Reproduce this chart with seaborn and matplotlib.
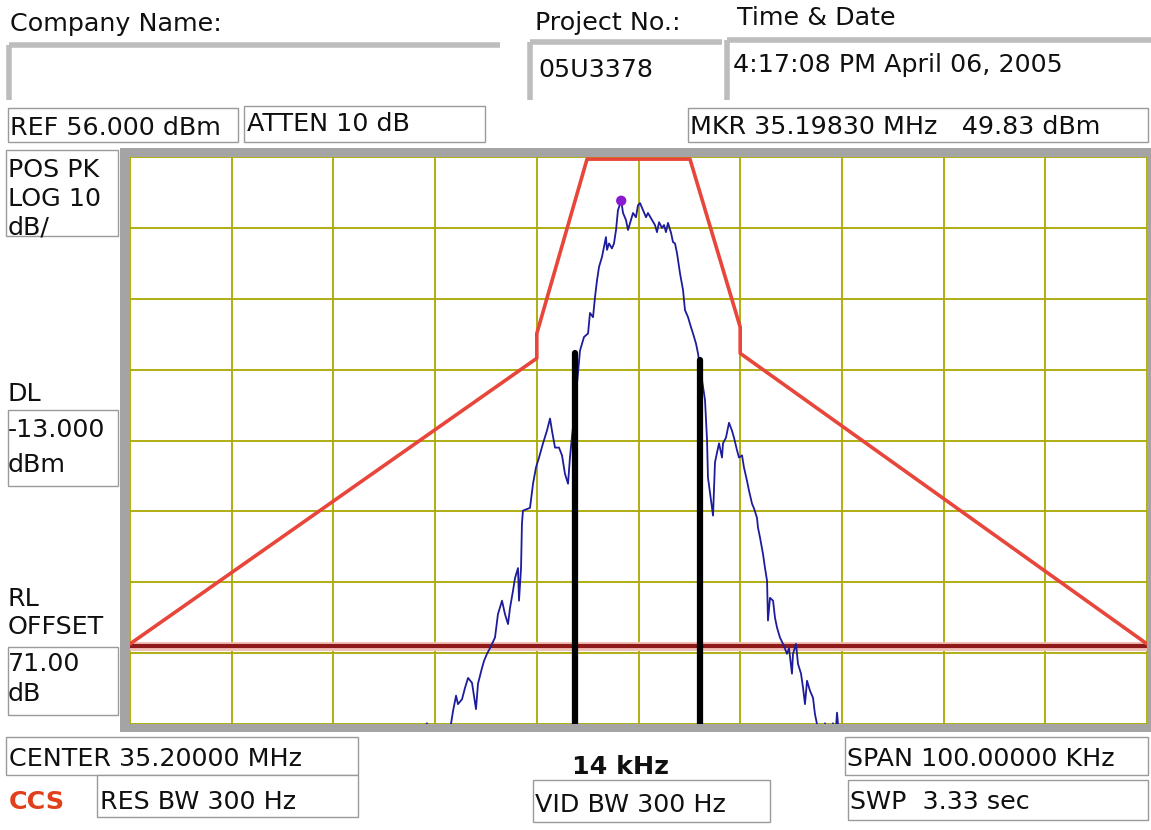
import numpy as np
import pandas as pd
import matplotlib
matplotlib.use("Agg")
import matplotlib.pyplot as plt
from matplotlib.patches import Rectangle
import seaborn as sns

# ---------------- data ----------------
center_mhz = 35.2
span_khz = 100.0
ref_dbm = 56.0
db_per_div = 10.0
n_vdiv = 8
n_hdiv = 10
display_line_dbm = -13.0

trace_khz = [-22.0, -20.8, -20.6, -18.6, -18.44, -18.24, -17.94, -17.75, -17.35, -17.06,
             -16.76, -16.37, -15.98, -15.78, -15.39, -15.19, -14.90, -14.60, -14.11, -13.82,
             -13.42, -13.13, -12.83, -12.63, -12.34, -12.14, -11.85, -11.75, -11.55, -11.46,
             -11.36, -10.67, -10.37, -10.08, -9.78, -9.39, -9.00, -8.70, -8.51, -8.21,
             -7.82, -7.52, -7.23, -6.93, -6.74, -6.30, -5.75, -5.46, -5.36, -4.96,
             -4.87, -4.77, -4.47, -4.38, -4.28, -4.08, -3.88, -3.59, -3.39, -3.20,
             -3.10, -2.90, -2.61, -2.41, -2.21, -2.02, -1.70, -1.52, -1.23, -1.03,
             -0.74, -0.54, -0.25, -0.05, 0.15, 0.44, 0.74, 0.93, 1.33, 1.62,
             1.82, 2.02, 2.31, 2.51, 2.70, 2.90, 3.20, 3.39, 3.59, 3.79,
             4.08, 4.38, 4.57, 4.87, 5.16, 5.36, 5.65, 5.85, 6.30, 6.54,
             6.74, 6.83, 7.13, 7.33, 7.42, 7.52, 7.72, 7.92, 8.21, 8.31,
             8.60, 8.90, 9.19, 9.39, 9.69, 9.88, 10.18, 10.37, 10.67, 10.87,
             11.16, 11.36, 11.65, 11.75, 11.95, 12.24, 12.44, 12.64, 12.73, 12.93,
             13.23, 13.42, 13.62, 13.91, 14.21, 14.60, 14.80, 15.09, 15.19, 15.49,
             15.68, 15.98, 16.18, 16.37, 16.57, 16.86, 17.16, 17.35, 17.55, 17.75,
             18.2, 18.34, 18.5, 19.0, 19.12, 19.3, 19.52, 19.62, 19.8, 21.0]
trace_dbm = [-27, -23.9, -27, -27, -24.0, -22.2, -20.0, -21.2, -20.5, -18.9,
             -17.5, -18.2, -21.9, -18.3, -16.1, -15.1, -14.1, -13.3, -11.8, -8.5,
             -6.6, -8.5, -9.9, -7.6, -5.2, -3.4, -2.0, -6.6, -2.0, 4.3,
             6.1, 6.5, 9.9, 12.2, 13.6, 15.6, 17.4, 19.1, 17.4, 15.0,
             15.0, 13.9, 11.3, 9.9, 13.6, 20.0, 28.7, 30.1, 30.6, 31.1,
             32.5, 34.0, 33.4, 34.8, 36.2, 38.6, 40.5, 41.9, 43.3, 44.7,
             42.9, 43.8, 43.1, 43.8, 45.7, 48.5, 49.83, 48.1, 47.1, 45.7,
             47.1, 48.1, 47.5, 49.2, 49.5, 48.5, 47.5, 48.1, 47.1, 46.4,
             45.4, 46.8, 46.0, 46.4, 45.4, 46.7, 45.3, 44.0, 43.8, 42.4,
             39.6, 37.2, 34.4, 33.4, 32.0, 31.1, 29.7, 28.3, 24.0, 21.7,
             16.0, 10.8, 7.5, 5.4, 8.9, 12.9, 14.3, 15.6, 13.6, 15.6,
             16.4, 18.5, 17.4, 16.4, 14.6, 13.6, 13.9, 12.2, 10.3, 8.9,
             7.1, 6.4, 5.1, 3.7, 2.3, 0.0, -2.0, -3.8, -9.4, -6.2,
             -6.6, -9.0, -10.4, -11.8, -12.7, -14.1, -13.3, -16.9, -14.1, -12.7,
             -15.5, -16.9, -18.9, -21.2, -17.9, -19.3, -20.3, -22.6, -24.0, -27,
             -27, -23.9, -27, -27, -23.9, -27, -22.4, -24.0, -27, -27]
assert len(trace_khz) == len(trace_dbm)

mask_khz = [-50, -10, -10, -5.06, 5.06, 10, 10, 50]
mask_dbm = [-12.7, 27.6, 31.1, 55.7, 55.7, 32.0, 28.3, -12.7]

obw_khz = [-6.24, 6.05]
obw_top_dbm = [28.3, 27.3]

marker_khz = [-1.70]
marker_dbm = [49.83]

# ---------------- style ----------------
sns.set_theme(style="white")
plt.rcParams["font.family"] = ["DejaVu Sans"]

W, H = 1151, 830
fig = plt.figure(figsize=(W / 100, H / 100), dpi=100)
fig.patch.set_facecolor("white")

# overlay for panel text / boxes (pixel coordinates of the layout)
ov = fig.add_axes([0, 0, 1, 1], zorder=0)
ov.set_xlim(0, W)
ov.set_ylim(H, 0)
ov.axis("off")

# grey frame around the graticule
ov.add_patch(Rectangle((120, 148), W - 120, 584, facecolor="#a4a4a4", edgecolor="none"))

FS = 18.3
TXT = "#101010"
BOX = "#9a9a9a"

def box(x0, y0, x1, y1):
    ov.add_patch(Rectangle((x0, y0), x1 - x0, y1 - y0, facecolor="white",
                           edgecolor=BOX, linewidth=1.0))

def sunken(x0, y0, x1, y1):
    ov.plot([x0, x1], [y0, y0], color="#bdbdbd", lw=4, solid_capstyle="butt")
    ov.plot([x0, x0], [y0, y1], color="#bdbdbd", lw=4, solid_capstyle="butt")

def txt(x, y, s, **kw):
    opts = dict(fontsize=FS, color=TXT, va="baseline", ha="left")
    opts.update(kw)
    ov.text(x, y, s, **opts)

# header
txt(10, 31, "Company Name:")
sunken(9, 45, 500, 100)
txt(535, 30, "Project No.:")
sunken(530, 42, 722, 100)
txt(538, 77, "05U3378")
txt(737, 25, "Time & Date")
sunken(727, 40, 1151, 100)
txt(733, 72, "4:17:08 PM April 06, 2005")

box(8, 108, 238, 142)
txt(10, 135, "REF 56.000 dBm")
box(244, 106, 485, 142)
txt(247, 131, "ATTEN 10 dB")
box(688, 108, 1148, 142)
txt(690, 134, "MKR 35.19830 MHz   49.83 dBm")

# left panel
box(6, 150, 118, 236)
txt(8, 177, "POS PK")
txt(8, 206, "LOG 10")
txt(8, 234, "dB/")
txt(8, 401, "DL")
box(8, 410, 118, 486)
txt(8, 437, "-13.000")
txt(8, 472, "dBm")
txt(8, 606, "RL")
txt(8, 634, "OFFSET")
box(8, 647, 118, 715)
txt(8, 671, "71.00")
txt(8, 701, "dB")

# bottom panel
box(6, 737, 358, 775)
txt(9, 766, "CENTER 35.20000 MHz")
box(97, 775, 358, 817)
txt(100, 809, "RES BW 300 Hz")
txt(9, 809, "CCS", color="#e0401a", fontweight="bold")
txt(572, 774, "14 kHz", fontweight="bold")
box(533, 780, 770, 822)
txt(535, 812, "VID BW 300 Hz")
box(845, 737, 1148, 775)
txt(847, 766, "SPAN 100.00000 KHz")
box(848, 780, 1148, 820)
txt(850, 809, "SWP  3.33 sec")

# ---------------- graticule ----------------
ax = fig.add_axes([130 / W, 1 - 724 / H, (1147 - 130) / W, (724 - 157) / H], zorder=1)
ax.set_facecolor("white")
half = span_khz / 2
bottom = ref_dbm - n_vdiv * db_per_div
ax.set_xlim(-half, half)
ax.set_ylim(bottom, ref_dbm)
ax.set_xticks(np.linspace(-half, half, n_hdiv + 1))
ax.set_yticks(np.linspace(bottom, ref_dbm, n_vdiv + 1))
ax.tick_params(length=0, labelbottom=False, labelleft=False)
ax.grid(True, color="#aaa800", linewidth=1.3)
ax.set_axisbelow(True)
for sp in ax.spines.values():
    sp.set_visible(False)

trace = pd.DataFrame({"khz": trace_khz, "dbm": trace_dbm})
mask = pd.DataFrame({"khz": mask_khz, "dbm": mask_dbm})

# display line with pale halo
sns.lineplot(x=[-half, half], y=[display_line_dbm] * 2, ax=ax, color="#f3c0b8",
             linewidth=6.5, estimator=None, sort=False)
sns.lineplot(x=[-half, half], y=[display_line_dbm] * 2, ax=ax, color="#8e1a1a",
             linewidth=3.0, estimator=None, sort=False)
# limit mask
sns.lineplot(data=mask, x="khz", y="dbm", ax=ax, color="#e8463a", linewidth=2.6,
             estimator=None, sort=False)
# trace
sns.lineplot(data=trace, x="khz", y="dbm", ax=ax, color="#1c1c9c", linewidth=1.3,
             estimator=None, sort=False)
# occupied bandwidth bars
for f, t in zip(obw_khz, obw_top_dbm):
    sns.lineplot(x=[f, f], y=[bottom - 5, t], ax=ax, color="black", linewidth=4.5,
                 estimator=None, sort=False)
# marker
sns.scatterplot(x=marker_khz, y=marker_dbm, ax=ax, color="#8a1ad0", s=55,
                edgecolor="none", zorder=5)

ax.set_xlabel("")
ax.set_ylabel("")
if ax.get_legend() is not None:
    ax.get_legend().remove()

fig.savefig("out.png", dpi=100, facecolor="white")
